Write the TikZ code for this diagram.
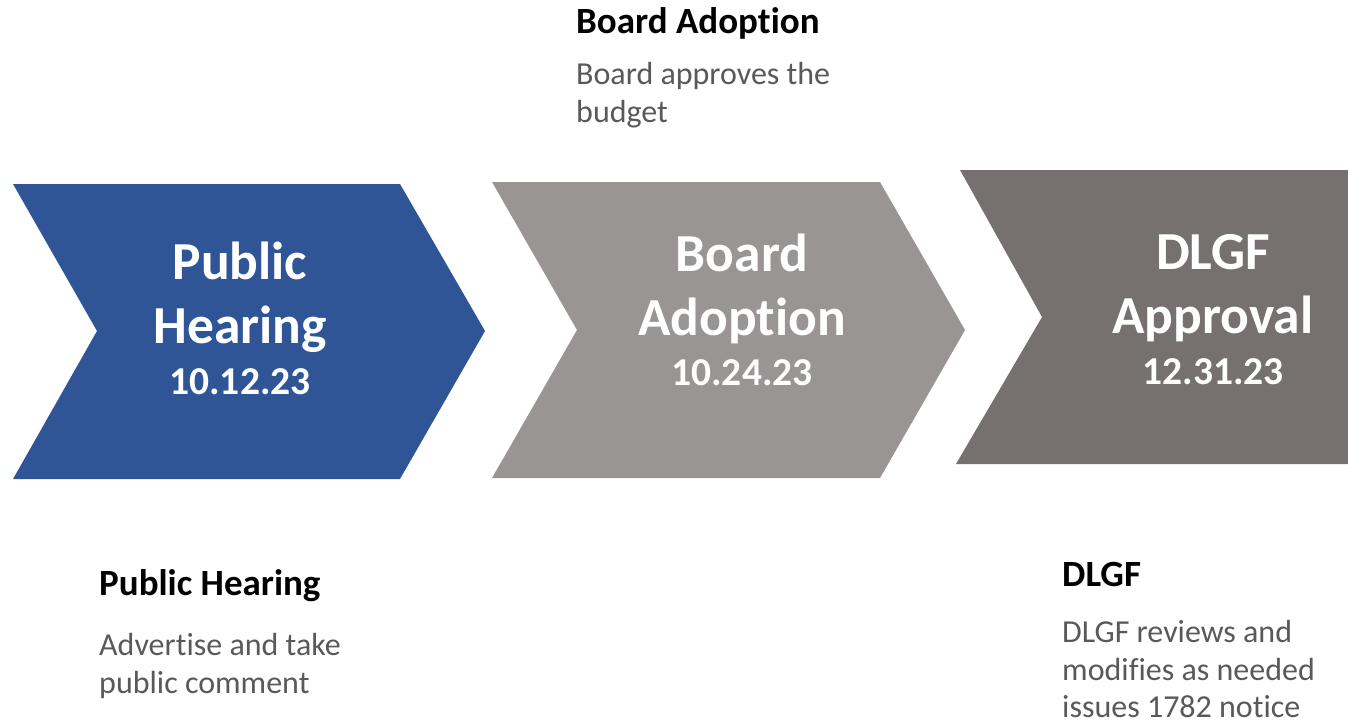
\documentclass[tikz,border=0pt]{standalone}
\usepackage{fontspec}
\setmainfont{Carlito}[Ligatures={NoCommon,NoContextual}, RawFeature={-liga;-clig;-dlig;-calt}]
\definecolor{cblue}{HTML}{2F5597}
\definecolor{cgray}{HTML}{989594}
\definecolor{cdark}{HTML}{767170}
\definecolor{ctext}{HTML}{595959}
\tikzset{
  bigt/.style={anchor=base, text=white, inner sep=0pt, font=\fontsize{53.5}{60}\selectfont\bfseries},
  datet/.style={anchor=base, text=white, inner sep=0pt, font=\fontsize{39.5}{44}\selectfont\bfseries},
  headt/.style={anchor=base west, text=black, inner sep=0pt, font=\fontsize{37}{40}\selectfont\bfseries},
  bodyt/.style={anchor=base west, text=ctext, inner sep=0pt, font=\fontsize{32}{37}\selectfont},
}
\begin{document}
\begin{tikzpicture}[x=1pt,y=-1pt]
\useasboundingbox (0,0) rectangle (1348,724);
% chevrons
\fill[cblue] (13,184) -- (400,184) -- (485,331) -- (400,479) -- (13,479) -- (97,331) -- cycle;
\fill[cgray] (492,182) -- (880,182) -- (965,330) -- (880,478) -- (492,478) -- (577,330) -- cycle;
\fill[cdark] (960,170) -- (1348,170) -- (1348,464) -- (956,464) -- (1042,317) -- cycle;
% chevron texts
\node[bigt] (ph1) at (240,279) {Public};
\node[bigt] (ph2) at (240,343) {Hearing};
\node[datet] (ph3) at (240,394) {10.12.23};
\node[bigt] (ba1) at (742,271) {Board};
\node[bigt] (ba2) at (742,335) {Adoption};
\node[datet] (ba3) at (742,385) {10.24.23};
\node[bigt] (dl1) at (1213,269) {DLGF};
\node[bigt] (dl2) at (1213,333) {Approval};
\node[datet] (dl3) at (1213,384) {12.31.23};
% captions
\node[headt] (bah) at (576,33) {Board Adoption};
\node[bodyt] (bab1) at (576,84) {Board approves the};
\node[bodyt] (bab2) at (576,122) {budget};
\node[headt] (phh) at (99,595) {Public Hearing};
\node[bodyt] (phb1) at (99,655) {Advertise and take};
\node[bodyt] (phb2) at (99,693) {public comment};
\node[headt] (dlh) at (1062,586) {DLGF};
\node[bodyt] (dlb1) at (1062,642) {DLGF reviews and};
\node[bodyt] (dlb2) at (1062,680) {modifies as needed};
\node[bodyt] (dlb3) at (1062,717) {issues 1782 notice};
\end{tikzpicture}
\end{document}
